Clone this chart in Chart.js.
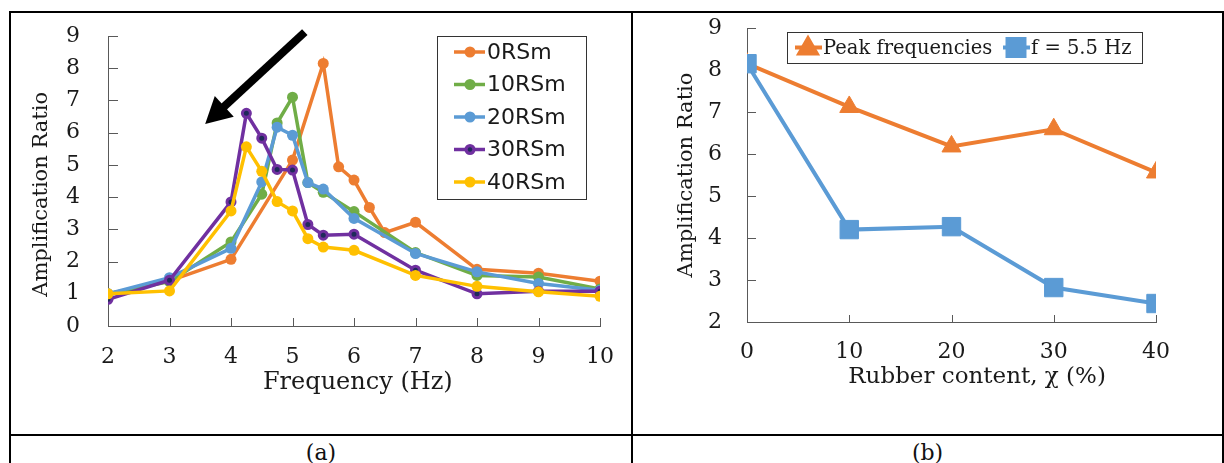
<!DOCTYPE html>
<html><head><meta charset="utf-8">
<script src="https://cdn.jsdelivr.net/npm/chart.js@4.4.0/dist/chart.umd.min.js"></script>
<style>
html,body{margin:0;padding:0;background:#fff;width:1224px;height:463px;overflow:hidden;position:relative}
.b{position:absolute;background:#000}
canvas{position:absolute}
.cap{position:absolute;font-family:'DejaVu Serif';font-size:22px;line-height:24px;color:#111;top:441px;text-align:center}
</style></head><body>
<canvas id="ca" width="630" height="435" style="left:0;top:0"></canvas>
<canvas id="cb" width="590" height="435" style="left:632px;top:0"></canvas>
<div class="b" style="left:9px;top:11px;width:1215px;height:2px"></div>
<div class="b" style="left:9px;top:11px;width:2px;height:452px"></div>
<div class="b" style="left:631px;top:11px;width:2px;height:452px"></div>
<div class="b" style="left:1222px;top:11px;width:2px;height:452px"></div>
<div class="b" style="left:9px;top:434px;width:1215px;height:2px"></div>
<div class="cap" style="left:11px;width:620px">(a)</div>
<div class="cap" style="left:633px;width:589px">(b)</div>
<script>
// ---------- Data (a) ----------
const seriesNamesA = ['0RSm','10RSm','20RSm','30RSm','40RSm'];
const freq0RSm  = [2,3,4,5,5.5,5.75,6,6.25,6.5,7,8,9,10];
const amp0RSm   = [1.0,1.4,2.07,5.15,8.15,4.94,4.53,3.68,2.9,3.22,1.76,1.64,1.39];
const freq10RSm = [2,3,4,4.5,4.75,5,5.25,5.5,6,7,8,9,10];
const amp10RSm  = [1.0,1.38,2.61,4.09,6.3,7.1,4.45,4.15,3.55,2.28,1.57,1.52,1.15];
const freq20RSm = [2,3,4,4.5,4.75,5,5.25,5.5,6,7,8,9,10];
const amp20RSm  = [1.0,1.5,2.41,4.47,6.17,5.92,4.45,4.25,3.34,2.25,1.68,1.32,1.11];
const freq30RSm = [2,3,4,4.25,4.5,4.75,5,5.25,5.5,6,7,8,9,10];
const amp30RSm  = [0.83,1.42,3.85,6.6,5.83,4.86,4.84,3.15,2.82,2.85,1.73,1.0,1.08,1.08];
const freq40RSm = [2,3,4,4.25,4.5,4.75,5,5.25,5.5,6,7,8,9,10];
const amp40RSm  = [1.0,1.09,3.57,5.56,4.8,3.86,3.57,2.71,2.45,2.35,1.57,1.23,1.06,0.92];
const arrowStart = [5.2, 9.12];
const arrowTip   = [3.58, 6.27];
// ---------- Data (b) ----------
const rubberContent = [0,10,20,30,40];
const peakAmp       = [8.15,7.12,6.18,6.59,5.56];
const f55Amp        = [8.15,4.2,4.27,2.82,2.44];
const seriesNamesB  = ['Peak frequencies','f = 5.5 Hz'];

const SERIF = 'DejaVu Serif';
const txt = '#1a1a1a';
const axisCol = '#595959';
const toXY = (xs, ys) => xs.map((x,i)=>({x, y: ys[i]}));

const innerTicks = {
  id:'innerTicks',
  beforeDatasetsDraw(chart, args, o){
    const ctx = chart.ctx, xs = chart.scales.x, ys = chart.scales.y;
    ctx.save(); ctx.strokeStyle = axisCol; ctx.lineWidth = 1;
    ys.ticks.forEach((t,i)=>{ const p = Math.round(ys.getPixelForTick(i))+0.5;
      ctx.beginPath(); ctx.moveTo(ys.right, p); ctx.lineTo(ys.right+o.yLen, p); ctx.stroke(); });
    xs.ticks.forEach((t,i)=>{ const p = Math.round(xs.getPixelForTick(i))+0.5;
      ctx.beginPath(); ctx.moveTo(p, xs.top); ctx.lineTo(p, xs.top-o.xLen); ctx.stroke(); });
    ctx.restore();
  }
};

// ---------- Chart (a) ----------
const colorsA = ['#ED7D31','#70AD47','#5B9BD5','#7030A0','#FFC000'];
const xsA = [freq0RSm,freq10RSm,freq20RSm,freq30RSm,freq40RSm];
const ysA = [amp0RSm,amp10RSm,amp20RSm,amp30RSm,amp40RSm];
const dsA = seriesNamesA.map((n,i)=>({
  label:n, data:toXY(xsA[i],ysA[i]), borderColor:colorsA[i], backgroundColor:colorsA[i],
  borderWidth:3.5, pointRadius: i===3?4:5.5, pointBorderWidth: i===3?3:0,
  pointBackgroundColor: i===3?'#1f2a5a':colorsA[i], pointBorderColor:colorsA[i],
  order: seriesNamesA.length-1-i, tension:0
}));

const legendA = {
  id:'legendA',
  afterDraw(chart){
    const ctx = chart.ctx, ca = chart.chartArea;
    const bx = ca.right-163, by = ca.top, bw = 149, bh = 163;
    ctx.save();
    ctx.fillStyle='#fff'; ctx.fillRect(bx,by,bw,bh);
    ctx.strokeStyle='#333'; ctx.lineWidth=1; ctx.strokeRect(bx+0.5,by+0.5,bw,bh);
    chart.data.datasets.forEach((d,i)=>{
      const yy = by+16+i*32.5;
      ctx.strokeStyle=d.borderColor; ctx.lineWidth=3.5;
      ctx.beginPath(); ctx.moveTo(bx+17,yy); ctx.lineTo(bx+48,yy); ctx.stroke();
      ctx.beginPath(); ctx.arc(bx+33,yy,5.5,0,Math.PI*2); ctx.fillStyle=d.borderColor; ctx.fill();
      if(i===3){ ctx.beginPath(); ctx.arc(bx+33,yy,2.2,0,Math.PI*2); ctx.fillStyle='#1f2a5a'; ctx.fill(); }
      ctx.fillStyle=txt; ctx.font='22px "DejaVu Sans"'; ctx.textBaseline='middle'; ctx.textAlign='left';
      ctx.fillText(d.label,bx+50,yy+1);
    });
    ctx.restore();
  }
};

const arrowPlugin = {
  id:'arrowA',
  afterDatasetsDraw(chart){
    const ctx = chart.ctx, xs = chart.scales.x, ys = chart.scales.y;
    const x0 = xs.getPixelForValue(arrowStart[0]), y0 = ys.getPixelForValue(arrowStart[1]);
    const x1 = xs.getPixelForValue(arrowTip[0]), y1 = ys.getPixelForValue(arrowTip[1]);
    const L = Math.hypot(x1-x0,y1-y0), ux=(x1-x0)/L, uy=(y1-y0)/L, px=-uy, py=ux;
    const hl=26, hw=14;
    const bxp = x1-ux*hl, byp = y1-uy*hl;
    ctx.save(); ctx.strokeStyle='#000'; ctx.fillStyle='#000'; ctx.lineWidth=8; ctx.lineCap='butt';
    ctx.beginPath(); ctx.moveTo(x0,y0); ctx.lineTo(bxp+ux*2,byp+uy*2); ctx.stroke();
    ctx.beginPath(); ctx.moveTo(x1,y1); ctx.lineTo(bxp+px*hw,byp+py*hw); ctx.lineTo(bxp-px*hw,byp-py*hw); ctx.closePath(); ctx.fill();
    ctx.restore();
  }
};

new Chart(document.getElementById('ca'), {
  type:'line',
  data:{datasets:dsA},
  options:{
    responsive:false, animation:false, devicePixelRatio:1,
    layout:{padding:{left:0,top:36,right:30,bottom:29}},
    plugins:{legend:{display:false}, tooltip:{enabled:false}, innerTicks:{yLen:10,xLen:8}},
    scales:{
      x:{type:'linear', min:2, max:10,
        ticks:{stepSize:1, padding:0, color:txt, font:{family:SERIF,size:22}},
        grid:{display:false, drawTicks:true, tickLength:18}, border:{color:axisCol,width:1},
        title:{display:true, text:' Frequency (Hz)', color:txt, font:{family:SERIF,size:24}, padding:{top:0,bottom:9}},
        afterFit(s){ s.height = 80; }},
      y:{min:0, max:9,
        ticks:{stepSize:1, padding:0, color:txt, font:{family:SERIF,size:22}},
        grid:{display:false, drawTicks:true, tickLength:28}, border:{color:axisCol,width:1},
        title:{display:true, text:'Amplification Ratio    ', color:txt, font:{family:SERIF,size:21}, padding:{top:29,bottom:0}},
        afterFit(s){ s.width = 108; }}
    }
  },
  plugins:[innerTicks, arrowPlugin, legendA]
});

// ---------- Chart (b) ----------
const colorsB = ['#ED7D31','#5B9BD5'];
const dsB = [
  {label:seriesNamesB[0], data:toXY(rubberContent,peakAmp), borderColor:colorsB[0], backgroundColor:colorsB[0],
   borderWidth:4, pointStyle:'triangle', pointRadius:11, pointBorderWidth:1, order:1},
  {label:seriesNamesB[1], data:toXY(rubberContent,f55Amp), borderColor:colorsB[1], backgroundColor:colorsB[1],
   borderWidth:4, pointStyle:'rect', pointRadius:13, pointBorderWidth:1, order:0}
];

const legendB = {
  id:'legendB',
  afterDraw(chart){
    const ctx = chart.ctx, ca = chart.chartArea;
    const bx = ca.left+40, by = ca.top+4, bw = 355, bh = 31;
    ctx.save();
    ctx.fillStyle='#fff'; ctx.fillRect(bx,by,bw,bh);
    ctx.strokeStyle='#333'; ctx.lineWidth=1; ctx.strokeRect(bx+0.5,by+0.5,bw,bh);
    const offs = [8, 216];
    const cy = by+bh/2;
    chart.data.datasets.forEach((d,i)=>{
      const lx = bx+offs[i];
      ctx.strokeStyle=d.borderColor; ctx.lineWidth=4;
      ctx.beginPath(); ctx.moveTo(lx,cy); ctx.lineTo(lx+27,cy); ctx.stroke();
      ctx.fillStyle=d.borderColor; ctx.strokeStyle=d.borderColor;
      Chart.helpers.drawPoint(ctx,{pointStyle:d.pointStyle, radius: i===0?10:12, rotation:0, borderWidth:1}, lx+13, cy+ (i===0?1:0));
      ctx.fillStyle=txt; ctx.font='19.5px "DejaVu Serif"'; ctx.textBaseline='middle'; ctx.textAlign='left';
      ctx.fillText(d.label, lx+28, cy+1);
    });
    ctx.restore();
  }
};

new Chart(document.getElementById('cb'), {
  type:'line',
  data:{datasets:dsB},
  options:{
    responsive:false, animation:false, devicePixelRatio:1,
    layout:{padding:{left:0,top:28,right:66,bottom:33}},
    plugins:{legend:{display:false}, tooltip:{enabled:false}, innerTicks:{yLen:9,xLen:7}},
    scales:{
      x:{type:'linear', min:0, max:40,
        ticks:{stepSize:10, padding:0, color:txt, font:{family:SERIF,size:22}},
        grid:{display:false, drawTicks:true, tickLength:17}, border:{color:axisCol,width:1},
        title:{display:true, text:'       Rubber content, χ (%)', color:txt, font:{family:SERIF,size:23}, padding:{top:0,bottom:11}},
        afterFit(s){ s.height = 80; }},
      y:{min:2, max:9,
        ticks:{stepSize:1, padding:0, color:txt, font:{family:SERIF,size:22}},
        grid:{display:false, drawTicks:true, tickLength:25}, border:{color:axisCol,width:1},
        title:{display:true, text:'Amplification Ratio', color:txt, font:{family:SERIF,size:21}, padding:{top:42,bottom:0}},
        afterFit(s){ s.width = 115; }}
    }
  },
  plugins:[innerTicks, legendB]
});
</script>
</body></html>
